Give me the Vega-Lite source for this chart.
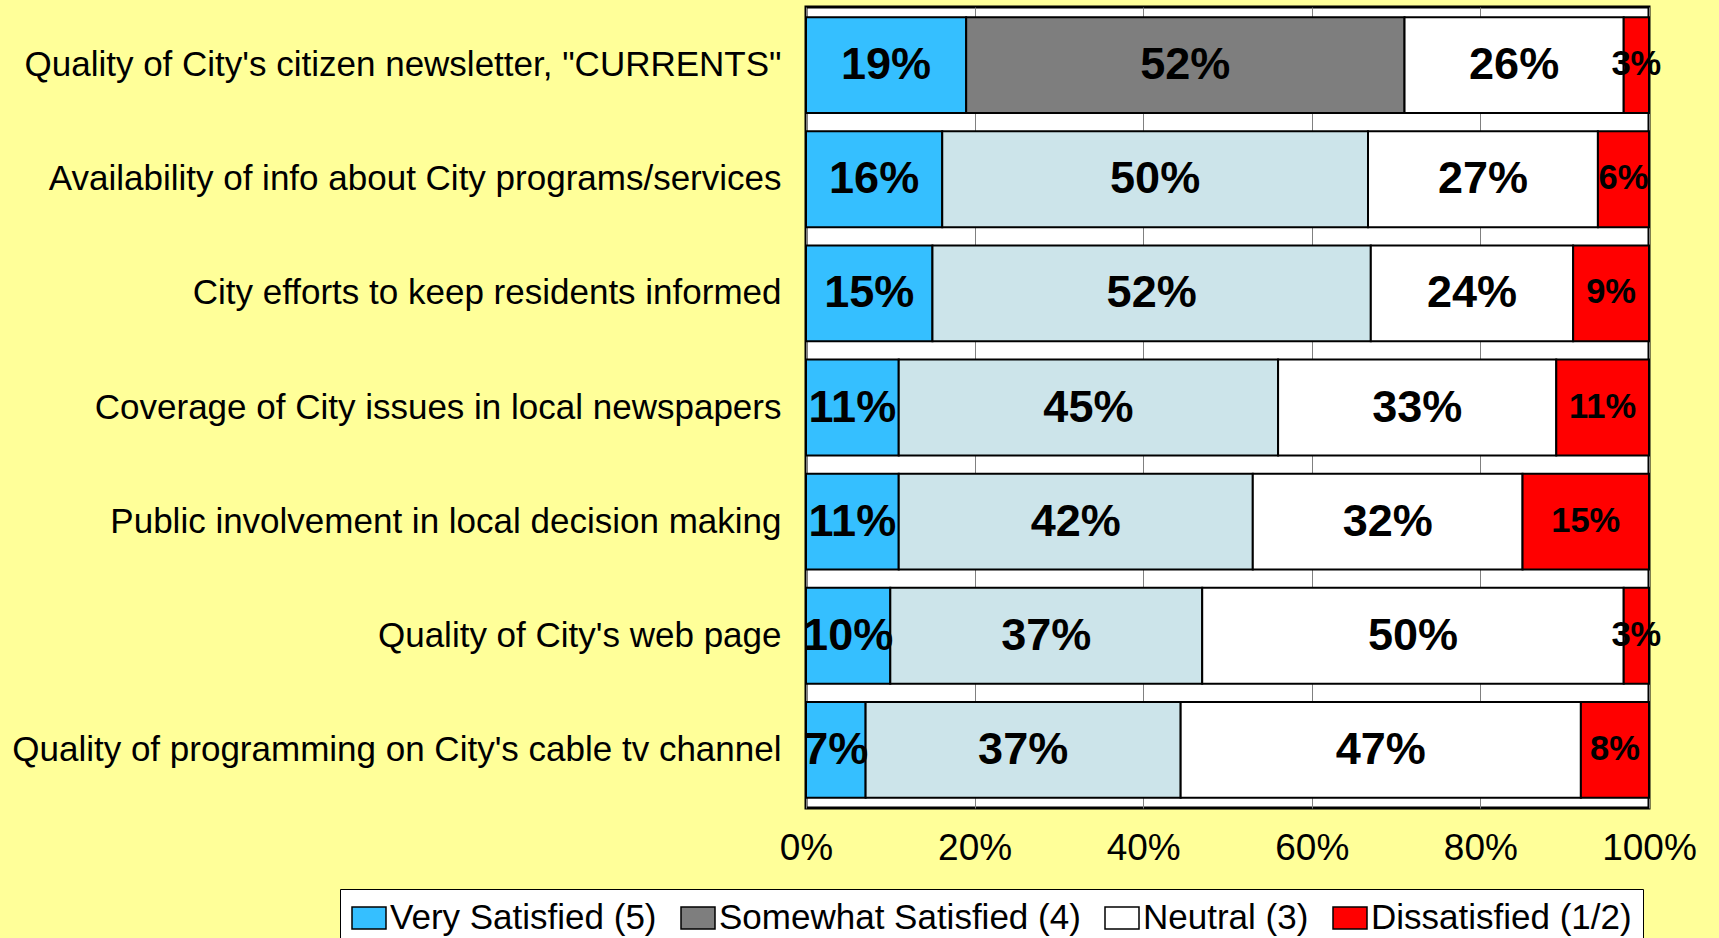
{
  "$schema": "https://vega.github.io/schema/vega-lite/v6.json",
  "width": 843,
  "height": 801,
  "autosize": {"type": "none"},
  "padding": {"left": 806, "top": 7, "right": 70, "bottom": 130},
  "background": "#FFFF99",
  "config": {
    "font": "Liberation Sans",
    "view": {"fill": "white", "stroke": "black", "strokeWidth": 3}
  },
  "data": {
    "values": [
      {"item": "Quality of City's citizen newsletter, \"CURRENTS\"", "row": 1, "cat": "Very Satisfied (5)", "rank": 1, "v": 0.19},
      {"item": "Quality of City's citizen newsletter, \"CURRENTS\"", "row": 1, "cat": "Somewhat Satisfied (4)", "rank": 2, "v": 0.52},
      {"item": "Quality of City's citizen newsletter, \"CURRENTS\"", "row": 1, "cat": "Neutral (3)", "rank": 3, "v": 0.26},
      {"item": "Quality of City's citizen newsletter, \"CURRENTS\"", "row": 1, "cat": "Dissatisfied (1/2)", "rank": 4, "v": 0.03},
      {"item": "Availability of info about City programs/services", "row": 2, "cat": "Very Satisfied (5)", "rank": 1, "v": 0.16},
      {"item": "Availability of info about City programs/services", "row": 2, "cat": "Somewhat Satisfied (4)", "rank": 2, "v": 0.50},
      {"item": "Availability of info about City programs/services", "row": 2, "cat": "Neutral (3)", "rank": 3, "v": 0.27},
      {"item": "Availability of info about City programs/services", "row": 2, "cat": "Dissatisfied (1/2)", "rank": 4, "v": 0.06},
      {"item": "City efforts to keep residents informed", "row": 3, "cat": "Very Satisfied (5)", "rank": 1, "v": 0.15},
      {"item": "City efforts to keep residents informed", "row": 3, "cat": "Somewhat Satisfied (4)", "rank": 2, "v": 0.52},
      {"item": "City efforts to keep residents informed", "row": 3, "cat": "Neutral (3)", "rank": 3, "v": 0.24},
      {"item": "City efforts to keep residents informed", "row": 3, "cat": "Dissatisfied (1/2)", "rank": 4, "v": 0.09},
      {"item": "Coverage of City issues in local newspapers", "row": 4, "cat": "Very Satisfied (5)", "rank": 1, "v": 0.11},
      {"item": "Coverage of City issues in local newspapers", "row": 4, "cat": "Somewhat Satisfied (4)", "rank": 2, "v": 0.45},
      {"item": "Coverage of City issues in local newspapers", "row": 4, "cat": "Neutral (3)", "rank": 3, "v": 0.33},
      {"item": "Coverage of City issues in local newspapers", "row": 4, "cat": "Dissatisfied (1/2)", "rank": 4, "v": 0.11},
      {"item": "Public involvement in local decision making", "row": 5, "cat": "Very Satisfied (5)", "rank": 1, "v": 0.11},
      {"item": "Public involvement in local decision making", "row": 5, "cat": "Somewhat Satisfied (4)", "rank": 2, "v": 0.42},
      {"item": "Public involvement in local decision making", "row": 5, "cat": "Neutral (3)", "rank": 3, "v": 0.32},
      {"item": "Public involvement in local decision making", "row": 5, "cat": "Dissatisfied (1/2)", "rank": 4, "v": 0.15},
      {"item": "Quality of City's web page", "row": 6, "cat": "Very Satisfied (5)", "rank": 1, "v": 0.10},
      {"item": "Quality of City's web page", "row": 6, "cat": "Somewhat Satisfied (4)", "rank": 2, "v": 0.37},
      {"item": "Quality of City's web page", "row": 6, "cat": "Neutral (3)", "rank": 3, "v": 0.50},
      {"item": "Quality of City's web page", "row": 6, "cat": "Dissatisfied (1/2)", "rank": 4, "v": 0.03},
      {"item": "Quality of programming on City's cable tv channel", "row": 7, "cat": "Very Satisfied (5)", "rank": 1, "v": 0.07},
      {"item": "Quality of programming on City's cable tv channel", "row": 7, "cat": "Somewhat Satisfied (4)", "rank": 2, "v": 0.37},
      {"item": "Quality of programming on City's cable tv channel", "row": 7, "cat": "Neutral (3)", "rank": 3, "v": 0.47},
      {"item": "Quality of programming on City's cable tv channel", "row": 7, "cat": "Dissatisfied (1/2)", "rank": 4, "v": 0.08}
    ]
  },
  "encoding": {
    "y": {
      "field": "item",
      "type": "nominal",
      "sort": {"field": "row", "op": "min", "order": "ascending"},
      "scale": {"paddingInner": 0.16, "paddingOuter": 0.09},
      "axis": {"title": null, "domain": false, "ticks": false, "labelFontSize": 35, "labelPadding": 25, "labelLimit": 800, "labelColor": "black"}
    }
  },
  "layer": [
    {
      "transform": [
        {"stack": "v", "groupby": ["item"], "sort": [{"field": "rank", "order": "ascending"}], "as": ["x0", "x1"], "offset": "normalize"}
      ],
      "mark": {"type": "bar", "stroke": "black", "strokeWidth": 2, "opacity": 1},
      "encoding": {
        "x": {
          "field": "x0",
          "type": "quantitative",
          "scale": {"domain": [0, 1]},
          "axis": {"title": null, "values": [0, 0.2, 0.4, 0.6, 0.8, 1], "format": ".0%", "labelFontSize": 37, "labelColor": "black", "grid": true, "gridColor": "#808080", "gridWidth": 1, "domain": false, "ticks": false, "labelPadding": 22, "labelFlush": false}
        },
        "x2": {"field": "x1"},
        "color": {
          "condition": {"test": "datum.rank == 2 && datum.row > 1", "value": "#CCE4EA"},
          "field": "cat",
          "type": "nominal",
          "scale": {
            "domain": ["Very Satisfied (5)", "Somewhat Satisfied (4)", "Neutral (3)", "Dissatisfied (1/2)"],
            "range": ["#35BFFF", "#7E7E7E", "#FFFFFF", "#FF0000"]
          },
          "legend": {
            "orient": "none", "legendX": -466, "legendY": 882,
            "direction": "horizontal", "columns": 4, "title": null,
            "fillColor": "white", "strokeColor": "black", "padding": 11,
            "labelFontSize": 35, "labelColor": "black", "labelOffset": 3, "labelLimit": 600,
            "symbolType": "M-1,-0.65H1V0.65H-1Z", "symbolSize": 1156,
            "symbolStrokeColor": "black", "symbolStrokeWidth": 1.5, "symbolOpacity": 1,
            "columnPadding": 21
          }
        }
      }
    },
    {
      "transform": [
        {"fold": ["v", "v"], "as": ["half", "hv"]},
        {"window": [{"op": "row_number", "as": "half_no"}], "groupby": ["item", "cat"]},
        {"stack": "hv", "groupby": ["item"], "sort": [{"field": "rank", "order": "ascending"}, {"field": "half_no", "order": "ascending"}], "as": ["t0", "t1"], "offset": "normalize"},
        {"filter": "datum.half_no == 1"}
      ],
      "mark": {"type": "text", "fontWeight": "bold", "align": "center", "baseline": "middle", "color": "black"},
      "encoding": {
        "x": {"field": "t1", "type": "quantitative"},
        "text": {"field": "v", "type": "quantitative", "format": ".0%"},
        "size": {"condition": {"test": "datum.rank == 4", "value": 34.5}, "value": 45}
      }
    }
  ]
}
